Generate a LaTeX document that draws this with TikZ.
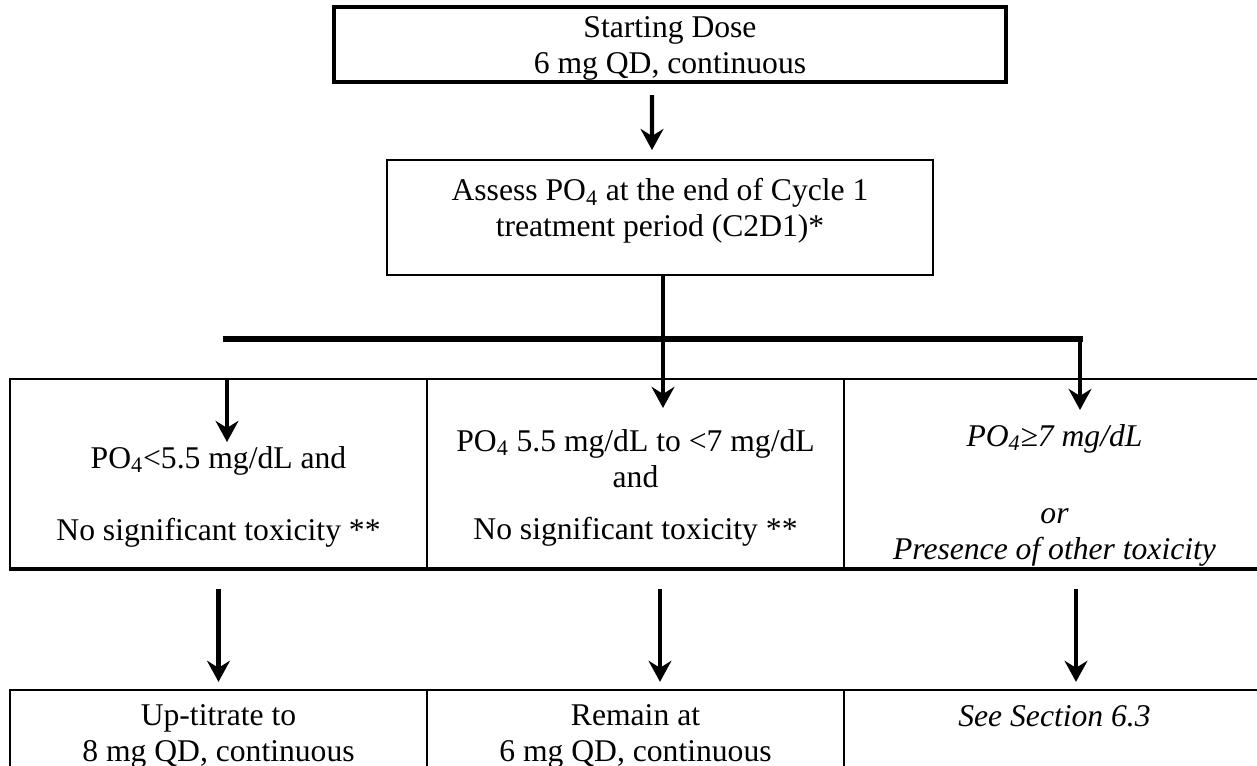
\documentclass[tikz,border=0pt]{standalone}
\usepackage{fontspec}
\setmainfont{Liberation Serif}
\usetikzlibrary{positioning,arrows.meta}
\newcommand{\bodyfont}{\fontsize{18}{20.5}\selectfont}
\newcommand{\pof}{PO\textsubscript{4}}

\begin{document}
\begin{tikzpicture}[
    x=0.02cm, y=-0.02cm,
    box/.style={draw, line width=1.1pt, inner sep=0pt},
    txt/.style={align=center, font=\bodyfont},
    itxt/.style={align=center, font=\bodyfont\itshape},
    arr/.style={line width=2.3pt, -{Stealth[length=12pt,width=13pt,inset=4pt]}},
    bar/.style={line width=3.4pt, line cap=rect}
  ]
  \useasboundingbox (0,0) rectangle (1257,766);

  % start and first check
  \node[box, line width=2.4pt, minimum width=13.44cm, minimum height=1.5cm] (dose) at (670,44.5) {};
  \node[txt] (dosetxt) at ([yshift=-0.07cm]dose.center) {Starting Dose\\6 mg QD, continuous};
  \node[box, minimum width=10.92cm, minimum height=2.3cm] (assess) at (660,217.5) {};
  \node[txt] (assesstxt) at ([yshift=0.13cm]assess.center) {Assess \pof{} at the end of Cycle 1\\treatment period (C2D1)*};
  \draw[arr, shorten <=0.22cm, shorten >=0.18cm] ([xshift=-0.36cm]dose.south) -- ([xshift=-0.16cm]assess.north);

  % the three PO4 outcomes
  \node[box, minimum width=8.34cm, minimum height=3.78cm] (low) at (218.5,473.5) {};
  \node[box, minimum width=8.34cm, minimum height=3.78cm] (mid) at (635.5,473.5) {};
  \node[box, minimum width=8.42cm, minimum height=3.78cm] (high) at (1054.5,473.5) {};
  \draw[line width=2pt] (low.south west) -- (high.south east);
  \node[txt] (lowtxt) at ([yshift=-0.46cm]low.center) {\pof<5.5 mg/dL and\\[0.72cm]No significant toxicity **};
  \node[txt] (midtxt) at ([yshift=-0.28cm]mid.center) {\pof{} 5.5 mg/dL to <7 mg/dL\\and\\[0.32cm]No significant toxicity **};
  \node[itxt] (hightxt) at ([yshift=-0.43cm]high.center) {\pof≥7 mg/dL\\[0.82cm]or\\Presence of other toxicity};

  % branching
  \coordinate (jl) at (226,339);
  \coordinate (jr) at (1080,339);
  \coordinate (ltip) at (227,442);
  \coordinate (mtip) at (663,408);
  \coordinate (rtip) at (1080,410);
  \draw[bar] (jl) -- (jr);
  \draw[arr] (jr) -- (rtip);
  \draw[arr] (assess.south -| mtip) -- (mtip);
  \draw[arr] (low.north -| ltip) -- (ltip);

  % resulting dose
  \node[box, line width=1.3pt, minimum width=8.34cm, minimum height=2.8cm] (up) at (218.5,760) {};
  \node[box, line width=1.3pt, minimum width=8.34cm, minimum height=2.8cm] (stay) at (635.5,760) {};
  \node[box, line width=1.3pt, minimum width=8.42cm, minimum height=2.8cm] (sect) at (1054.5,760) {};
  \node[txt] (uptxt) at ([yshift=0.47cm]up.center) {Up-titrate to\\8 mg QD, continuous};
  \node[txt] (staytxt) at ([yshift=0.47cm]stay.center) {Remain at\\6 mg QD, continuous};
  \node[itxt] (secttxt) at ([yshift=0.88cm]sect.center) {See Section 6.3};
  \draw[arr, shorten <=0.4cm, shorten >=0.14cm] (low.south) -- (up.north);
  \draw[arr, shorten <=0.4cm, shorten >=0.14cm] ([xshift=0.49cm]mid.south) -- ([xshift=0.49cm]stay.north);
  \draw[arr, shorten <=0.4cm, shorten >=0.14cm] ([xshift=0.43cm]high.south) -- ([xshift=0.43cm]sect.north);
\end{tikzpicture}
\end{document}
